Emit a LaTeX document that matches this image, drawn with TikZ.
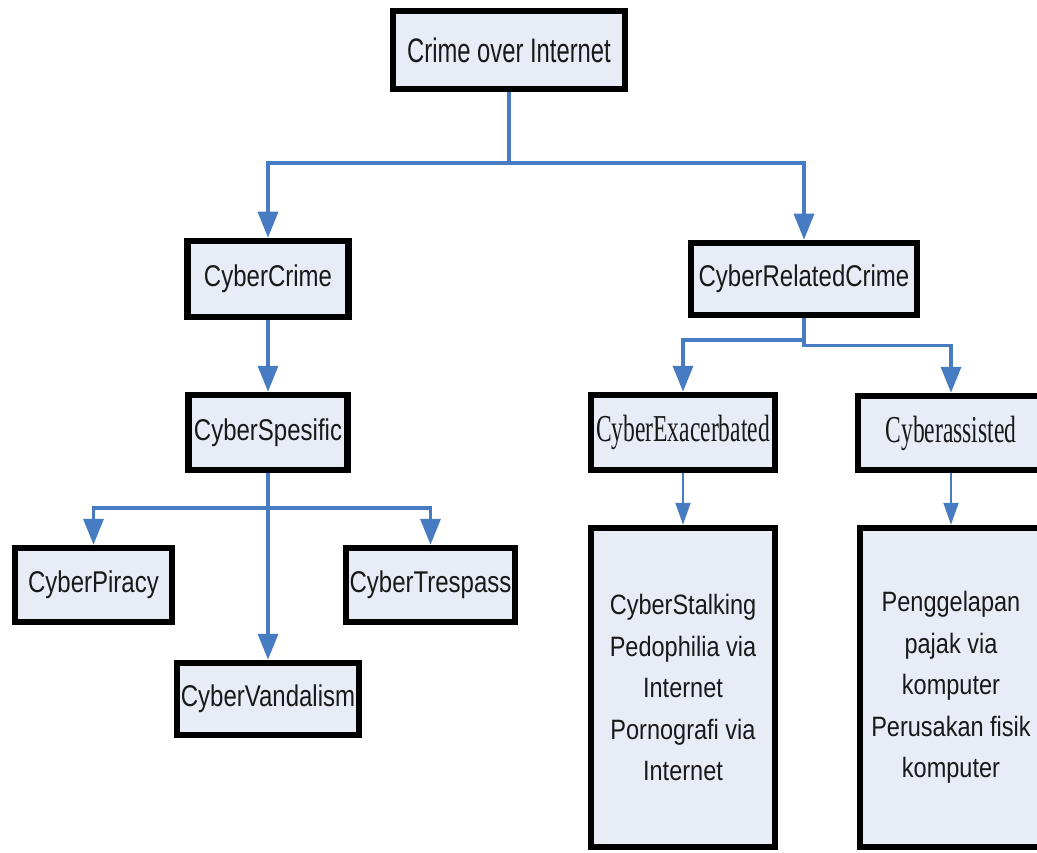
\documentclass[tikz,border=0pt]{standalone}
\usepackage{fontspec}
\setmainfont{Liberation Sans}
\newfontfamily\timesf{Liberation Serif}
\usepackage{graphicx}
\usetikzlibrary{arrows.meta}
\definecolor{boxfill}{RGB}{232,236,247}
\definecolor{linkblue}{RGB}{72,124,194}
\definecolor{ink}{RGB}{25,25,25}
\newcommand\hsq[2]{\scalebox{#1}[1]{#2}}
\pgfdeclarelayer{bg}
\pgfsetlayers{bg,main}
\begin{document}
\begin{tikzpicture}[x=1pt,y=-1pt,
  box/.style={draw=black, line width=6.5pt, fill=boxfill, inner sep=0pt, text=ink,
              font=\fontsize{30}{36}\selectfont},
  serifbox/.style={box, font=\timesf\fontsize{38}{44}\selectfont},
  tallbox/.style={box, align=center, font=\fontsize{28}{41.5}\selectfont},
  arr/.style={draw=linkblue, line width=3.5pt, -{Triangle[length=26pt,width=20pt]}},
  thinarr/.style={draw=linkblue, line width=2pt, -{Triangle[length=22pt,width=15pt]}}]
\useasboundingbox (0,0) rectangle (1037,853);
\clip (0,0) rectangle (1037,853);

\node[box, minimum width=232, minimum height=78] (top) at (509,50) {\hsq{0.7}{\fontsize{34}{40}\selectfont Crime over Internet}};
\node[box, minimum width=161, minimum height=76] (cc) at (268,279) {\hsq{0.8}{CyberCrime}};
\node[box, minimum width=159, minimum height=75] (cs) at (268,432.5) {\hsq{0.8}{CyberSpesific}};
\node[box, minimum width=157, minimum height=74] (cp) at (93.5,585) {\hsq{0.8}{CyberPiracy}};
\node[box, minimum width=169, minimum height=74] (ct) at (430.5,585) {\hsq{0.8}{CyberTrespass}};
\node[box, minimum width=182, minimum height=72] (cv) at (268,699) {\hsq{0.8}{CyberVandalism}};
\node[box, minimum width=226, minimum height=72] (rc) at (804,279) {\hsq{0.8}{CyberRelatedCrime}};
\node[serifbox, minimum width=184, minimum height=75] (ce) at (683,432.5) {\hsq{0.62}{CyberExacerbated}};
\node[serifbox, minimum width=186, minimum height=74] (ca) at (951,433) {\hsq{0.62}{Cyberassisted}};
\node[tallbox, minimum width=184, minimum height=319] (b1) at (683,687.5)
  {\hsq{0.84}{CyberStalking}\\ \hsq{0.84}{Pedophilia via}\\ \hsq{0.84}{Internet}\\ \hsq{0.84}{Pornografi via}\\ \hsq{0.84}{Internet}};
\node[tallbox, minimum width=182, minimum height=319] (b2) at (951,687.5)
  {\hsq{0.84}{Penggelapan}\\ \hsq{0.84}{pajak via}\\ \hsq{0.84}{komputer}\\ \hsq{0.84}{Perusakan fisik}\\ \hsq{0.84}{komputer}};

\coordinate (j1) at (509,163);
\coordinate (j2) at (268,508);

\begin{pgfonlayer}{bg}
\draw[arr] (top.south) -- (j1) -| (cc.north);
\draw[arr] (j1) -| (rc.north);
\draw[arr] (cc.south) -- (cs.north);
\draw[arr] (cs.south) -- (cv.north);
\draw[arr] (j2) -| (cp.north);
\draw[arr] (j2) -| (ct.north);
\draw[arr] (rc.south) -- ++(0,22) -| (ce.north);
\draw[arr] (rc.south) -- ++(0,27) -| (ca.north);
\draw[thinarr] (ce.south) -- (b1.north);
\draw[thinarr] (ca.south) -- (b2.north);
\end{pgfonlayer}
\end{tikzpicture}
\end{document}
